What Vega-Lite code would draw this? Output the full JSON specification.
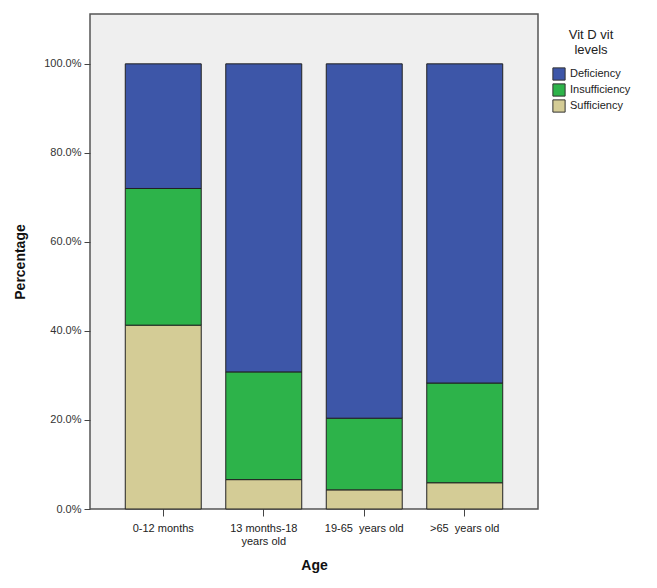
{
  "$schema": "https://vega.github.io/schema/vega-lite/v6.json",
  "autosize": "none",
  "width": 448,
  "height": 495,
  "padding": {"left": 90, "top": 14, "right": 119, "bottom": 79},
  "background": "white",
  "config": {
    "font": "Liberation Sans",
    "view": {"fill": "#efefef", "stroke": "#555555", "strokeWidth": 1.5}
  },
  "data": {
    "values": [
      {"age": "0-12 months", "level": "Sufficiency", "value": 0.413, "ord": 1},
      {"age": "0-12 months", "level": "Insufficiency", "value": 0.307, "ord": 2},
      {"age": "0-12 months", "level": "Deficiency", "value": 0.280, "ord": 3},
      {"age": "13 months-18 years old", "level": "Sufficiency", "value": 0.066, "ord": 1},
      {"age": "13 months-18 years old", "level": "Insufficiency", "value": 0.242, "ord": 2},
      {"age": "13 months-18 years old", "level": "Deficiency", "value": 0.692, "ord": 3},
      {"age": "19-65\u00a0 years old", "level": "Sufficiency", "value": 0.043, "ord": 1},
      {"age": "19-65\u00a0 years old", "level": "Insufficiency", "value": 0.161, "ord": 2},
      {"age": "19-65\u00a0 years old", "level": "Deficiency", "value": 0.796, "ord": 3},
      {"age": ">65\u00a0 years old", "level": "Sufficiency", "value": 0.059, "ord": 1},
      {"age": ">65\u00a0 years old", "level": "Insufficiency", "value": 0.224, "ord": 2},
      {"age": ">65\u00a0 years old", "level": "Deficiency", "value": 0.717, "ord": 3}
    ]
  },
  "mark": {"type": "bar", "stroke": "#222222", "strokeWidth": 1},
  "encoding": {
    "x": {
      "field": "age",
      "type": "nominal",
      "sort": ["0-12 months", "13 months-18 years old", "19-65\u00a0 years old", ">65\u00a0 years old"],
      "scale": {"paddingInner": 0.244, "paddingOuter": 0.351},
      "axis": {
        "title": "Age",
        "titleFontSize": 14,
        "titleFontWeight": "bold",
        "titleColor": "#111111",
        "titlePadding": 12,
        "labelAngle": 0,
        "labelFontSize": 11,
        "labelColor": "#222222",
        "labelPadding": 6,
        "labelExpr": "datum.label == '13 months-18 years old' ? ['13 months-18', 'years old'] : datum.label",
        "tickSize": 7,
        "tickColor": "#444444",
        "domain": false,
        "grid": false
      }
    },
    "y": {
      "field": "value",
      "type": "quantitative",
      "stack": "zero",
      "scale": {"domain": [0, 1.112], "nice": false},
      "axis": {
        "title": "Percentage",
        "titleFontSize": 14,
        "titleFontWeight": "bold",
        "titleColor": "#111111",
        "titlePadding": 16,
        "format": ".1%",
        "values": [0, 0.2, 0.4, 0.6, 0.8, 1.0],
        "labelFontSize": 11,
        "labelColor": "#333333",
        "labelPadding": 3,
        "tickSize": 6,
        "tickColor": "#444444",
        "domain": false,
        "grid": false
      }
    },
    "color": {
      "field": "level",
      "type": "nominal",
      "scale": {
        "domain": ["Deficiency", "Insufficiency", "Sufficiency"],
        "range": ["#3d56a8", "#2db34a", "#d4cc96"]
      },
      "legend": {
        "title": ["Vit D vit", "levels"],
        "titleFontSize": 13,
        "titleFontWeight": "normal",
        "titleColor": "#222222",
        "titleAlign": "center",
        "titleAnchor": "middle",
        "titlePadding": 10,
        "labelFontSize": 11,
        "labelColor": "#222222",
        "symbolType": "square",
        "symbolSize": 150,
        "symbolStrokeColor": "#333333",
        "symbolStrokeWidth": 1,
        "rowPadding": -3,
        "orient": "none",
        "legendX": 462,
        "legendY": 15
      }
    },
    "order": {"field": "ord", "type": "quantitative"}
  }
}
